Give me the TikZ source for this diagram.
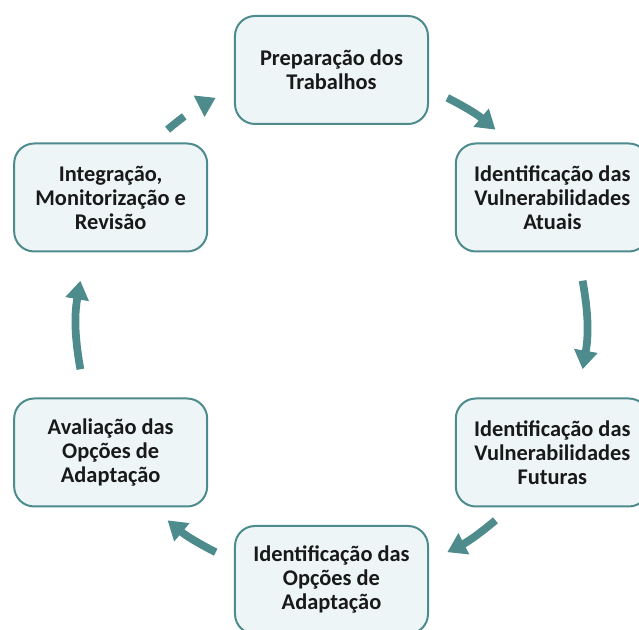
\documentclass[tikz,border=0pt]{standalone}
\usepackage{fontspec}
\setmainfont{Carlito}
\usetikzlibrary{arrows.meta}
\definecolor{verdeazul}{RGB}{78,139,140}
\definecolor{fundocaixa}{RGB}{238,245,246}
\tikzset{
  etapa/.style={draw=verdeazul, line width=1.5pt, fill=fundocaixa,
    rounded corners=15pt, minimum width=144.75pt, minimum height=81pt,
    align=center, text=black!90, font=\fontsize{16.8}{18}\selectfont\bfseries},
  seta/.style={draw=verdeazul, line width=5.8pt,
    -{Triangle[width=17pt,length=14pt]}},
}
\begin{document}
\begin{tikzpicture}[x=0.75pt, y=0.75pt]
  \useasboundingbox (-331.5,-305) rectangle (307.5,325);
  \clip (-331.5,-305) rectangle (307.5,325);
  % etapas do ciclo
  \node[etapa] (prep) at (90:255) {Preparação dos\\Trabalhos};
  \node[etapa] (atuais) at (30:255) {Identificação das\\Vulnerabilidades\\Atuais};
  \node[etapa] (futuras) at (-30:255) {Identificação das\\Vulnerabilidades\\Futuras};
  \node[etapa] (opcoes) at (-90:255) {Identificação das\\Opções de\\Adaptação};
  \node[etapa] (aval) at (-150:255) {Avaliação das\\Opções de\\Adaptação};
  \node[etapa] (integ) at (150:255) {Integração,\\Monitorização e\\Revisão};
  % setas
  \foreach \n/\a/\b in {a/63/50, b/10/-10, c/-50/-63, d/-117/-130, e/-170/-190, f/130/117} {
    \coordinate (\n0) at (\a:255);
    \coordinate (\n1) at (\b:255);
  }
  \draw[seta] (a0) to[bend left=6.5] (a1);
  \draw[seta] (b0) to[bend left=10] (b1);
  \draw[seta] (c0) to[bend left=6.5] (c1);
  \draw[seta] (d0) to[bend left=6.5] (d1);
  \draw[seta] (e0) to[bend left=10] (e1);
  \draw[seta, dash pattern=on 16pt off 20pt] (f0) to[bend left=6.5] (f1);
\end{tikzpicture}
\end{document}
